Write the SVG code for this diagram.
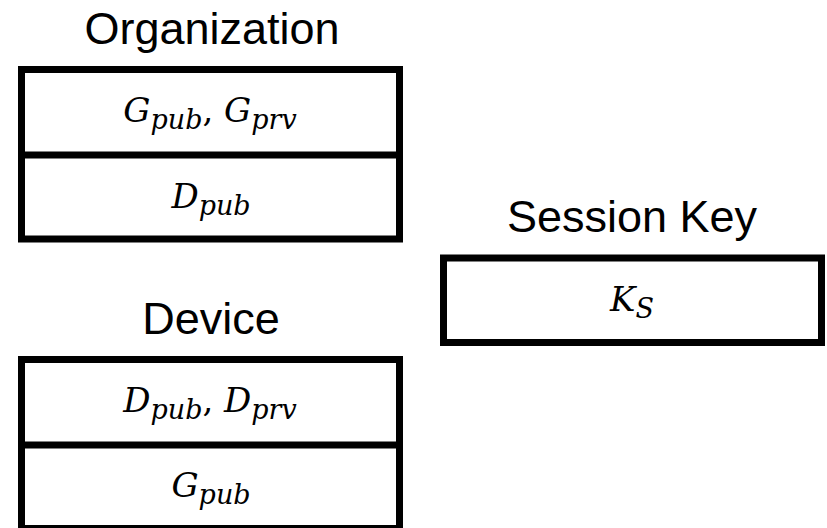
<svg xmlns="http://www.w3.org/2000/svg" width="827" height="528" viewBox="0 0 827 528">
  <style>
    .frame { fill: #ffffff; stroke: #000000; stroke-width: 7; }
    .rule { stroke: #000000; stroke-width: 7; }
    .title { font-family: "Liberation Sans", Arial, sans-serif; font-size: 45px; fill: #000000; text-anchor: middle; }
    .math { font-family: "DejaVu Serif", "Liberation Serif", serif; font-style: italic; font-size: 34px; fill: #000000; text-anchor: middle; }
    .sub { font-size: 27px; }
    .punct { font-style: normal; }
  </style>
  <rect width="827" height="528" fill="#ffffff"/>

  <!-- Organization key store -->
  <g id="organization">
    <text class="title" x="212" y="43.5">Organization</text>
    <rect class="frame" x="21.5" y="69.5" width="378" height="169.5"/>
    <line class="rule" x1="21.5" y1="155" x2="399.5" y2="155"/>
    <text class="math" x="210" y="122">G<tspan class="sub" dy="7">pub</tspan><tspan class="punct" dy="-7">, </tspan>G<tspan class="sub" dy="7">prv</tspan></text>
    <text class="math" x="211" y="207.5">D<tspan class="sub" dy="7">pub</tspan></text>
  </g>

  <!-- Device key store -->
  <g id="device">
    <text class="title" x="211" y="333.5">Device</text>
    <rect class="frame" x="21.5" y="359.5" width="378" height="169"/>
    <line class="rule" x1="21.5" y1="445" x2="399.5" y2="445"/>
    <text class="math" x="210" y="412">D<tspan class="sub" dy="7">pub</tspan><tspan class="punct" dy="-7">, </tspan>D<tspan class="sub" dy="7">prv</tspan></text>
    <text class="math" x="211" y="497">G<tspan class="sub" dy="7">pub</tspan></text>
  </g>

  <!-- Session key -->
  <g id="session-key">
    <text class="title" x="632" y="232">Session Key</text>
    <rect class="frame" x="443.5" y="258" width="378" height="84.5"/>
    <text class="math" x="632" y="311">K<tspan class="sub" dy="7">S</tspan></text>
  </g>
</svg>
